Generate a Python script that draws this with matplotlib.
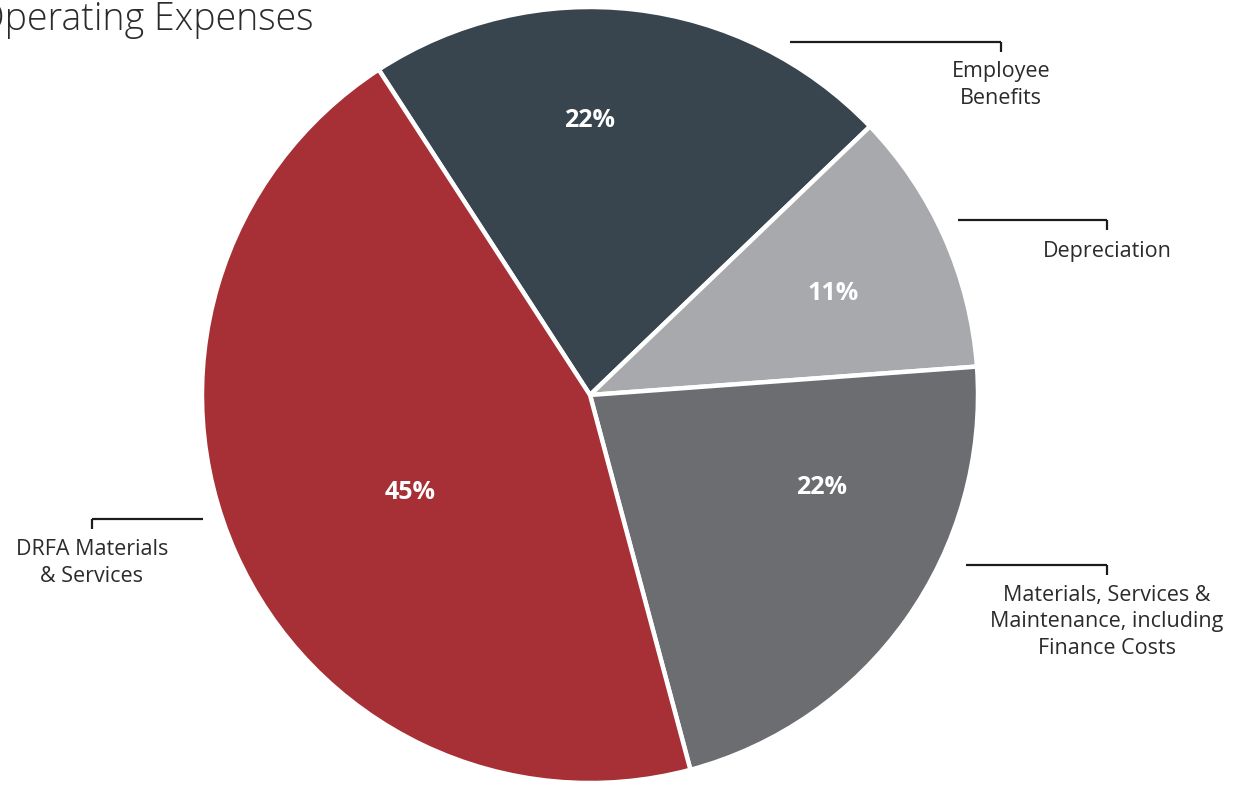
import matplotlib.pyplot as plt

# Operating expenses breakdown (percent of total)
categories = ["Employee\nBenefits", "Depreciation",
              "Materials, Services &\nMaintenance, including\nFinance Costs",
              "DRFA Materials\n& Services"]
shares = [22, 11, 22, 45]
colors = ["#38454e", "#a8a9ac", "#6c6d71", "#a63036"]

W, H = 1253, 788
FONT = "Open Sans"

def fy(y):
    # pixel row (top-down) -> data y (bottom-up)
    return H - y

fig = plt.figure(figsize=(W / 100, H / 100), dpi=100)
ax = fig.add_axes([0, 0, 1, 1])

wedges, _ = ax.pie(shares, colors=colors, startangle=123, counterclock=False,
                   center=(590, fy(395)), radius=388, frame=True,
                   wedgeprops=dict(edgecolor="white", linewidth=3.2))
ax.set_xlim(0, W)
ax.set_ylim(0, H)
ax.set_aspect("equal")
ax.axis("off")

# percentage labels
pct_pos = [(590, 120), (833, 293), (822, 487), (410, 492)]
for v, (x, y) in zip(shares, pct_pos):
    ax.text(x, fy(y), f"{v}%", color="white", fontsize=18, fontweight="bold",
            family=FONT, ha="center", va="center")

# leader lines: (x_start, x_end, y, x_tick), label anchor
leaders = [
    ((790, 1001, 42, 1001), (1001, 85)),
    ((958, 1107, 220, 1107), (1107, 251)),
    ((966, 1107, 565, 1107), (1107, 622)),
    ((92, 203, 519, 92), (92, 563)),
]
for cat, ((x0, x1, y, xt), (tx, ty)) in zip(categories, leaders):
    ax.plot([x0, x1], [fy(y), fy(y)], color="#1c1c1c", lw=1.6, solid_capstyle="butt")
    ax.plot([xt, xt], [fy(y), fy(y + 10)], color="#1c1c1c", lw=1.6, solid_capstyle="butt")
    ax.text(tx, fy(ty), cat, color="#2b2b2b", fontsize=15.5, family=FONT,
            ha="center", va="center", linespacing=1.34)

# title runs off the left edge, as in the source
ax.text(314, fy(20), "Operating Expenses", color="#2b2b2b", fontsize=27,
        family=FONT, fontweight="light", ha="right", va="center")

fig.savefig("out.png", dpi=100)
